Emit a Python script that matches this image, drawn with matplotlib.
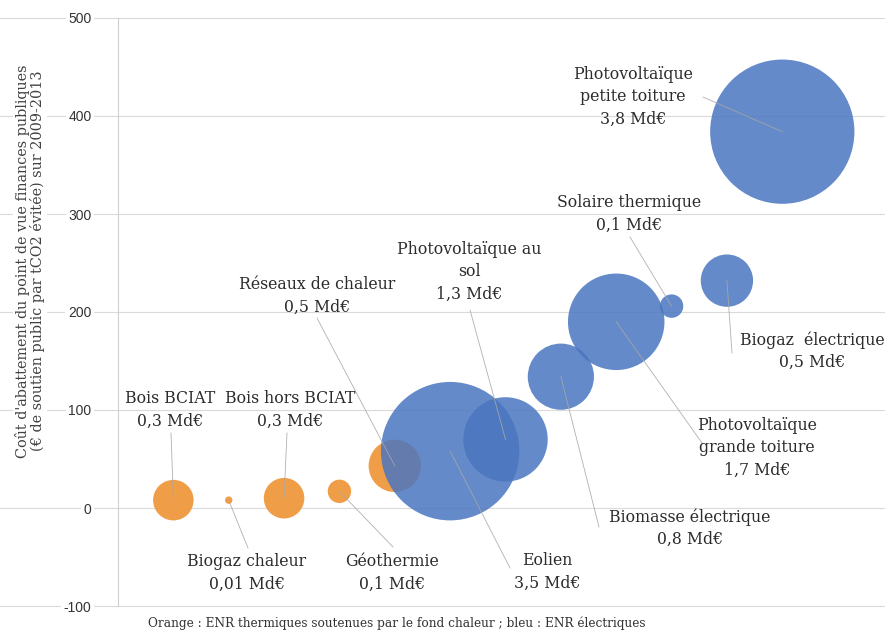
import matplotlib
matplotlib.use("Agg")
import matplotlib.pyplot as plt

# ---------------- data ----------------
names = ["Bois BCIAT", "Biogaz chaleur", "Bois hors BCIAT", "Géothermie",
         "Réseaux de chaleur", "Eolien", "Photovoltaïque au sol",
         "Biomasse électrique", "Photovoltaïque grande toiture",
         "Solaire thermique", "Biogaz électrique", "Photovoltaïque petite toiture"]
x_rank = [1, 2, 3, 4, 5, 6, 7, 8, 9, 10, 11, 12]
cost = [8, 8, 10, 17, 43, 58, 70, 134, 190, 206, 232, 384]          # €/tCO2
amount = [0.3, 0.01, 0.3, 0.1, 0.5, 3.5, 1.3, 0.8, 1.7, 0.1, 0.5, 3.8]  # Md€
group = ["thermique"] * 5 + ["électrique"] * 7
label_texts = ["Bois BCIAT\n0,3 Md€", "Biogaz chaleur\n0,01 Md€",
               "Bois hors BCIAT\n0,3 Md€", "Géothermie\n0,1 Md€",
               "Réseaux de chaleur\n0,5 Md€", "Eolien\n3,5 Md€",
               "Photovoltaïque au\nsol\n1,3 Md€", "Biomasse électrique\n0,8 Md€",
               "Photovoltaïque\ngrande toiture\n1,7 Md€", "Solaire thermique\n0,1 Md€",
               "Biogaz  électrique\n0,5 Md€", "Photovoltaïque\npetite toiture\n3,8 Md€"]
yticks = [-100, 0, 100, 200, 300, 400, 500]

# ---------------- layout ----------------
W, H = 885, 636
AX_L, AX_R = 118, 893          # pixel x of x=0 and x=14
AX_T, AX_B = 18, 606           # pixel y of y=500 and y=-100
XMIN, XMAX, YMIN, YMAX = 0, 14, -100, 500

def px2x(px):
    return XMIN + (px - AX_L) / (AX_R - AX_L) * (XMAX - XMIN)

def py2y(py):
    return YMIN + (AX_B - py) / (AX_B - AX_T) * (YMAX - YMIN)

# label centres and leader end points (pixels)
label_pos = [(170, 410), (247, 573), (290, 410), (392, 573), (317, 296),
             (547, 572), (469, 272), (690, 528), (757, 448), (629, 214),
             (812, 351), (633, 97)]
leader_end = [(171, 433), (248, 548), (287, 433), (393, 547), (317, 318),
              (510, 568), (470, 310), (599, 527), (702, 443), (630, 237),
              (732, 353), (703, 97)]

colors = {"thermique": "#F0983E", "électrique": "#4A76C0"}
alphas = {"thermique": 0.95, "électrique": 0.85}
size_k = 2840  # marker area (pt^2) per Md€

fig = plt.figure(figsize=(W / 100, H / 100), dpi=100)
ax = fig.add_axes([AX_L / W, (H - AX_B) / H, (AX_R - AX_L) / W, (AX_B - AX_T) / H])
ax.set_xlim(XMIN, XMAX)
ax.set_ylim(YMIN, YMAX)

for s in ["top", "right", "bottom"]:
    ax.spines[s].set_visible(False)
ax.spines["left"].set_color("#D0D0D0")
ax.spines["left"].set_linewidth(0.8)
ax.set_xticks([])
ax.set_yticks(yticks)
ax.set_yticklabels([str(v) for v in yticks], fontfamily="Liberation Sans",
                   fontsize=10, color="#333333")
ax.tick_params(axis="y", length=0, pad=19)
for lbl in ax.get_yticklabels():
    lbl.set_bbox(dict(facecolor="white", edgecolor="none", pad=2))

# gridlines spanning the full figure width
for v in yticks:
    ax.axhline(v, xmin=-AX_L / (AX_R - AX_L), xmax=1, color="#DADADA",
               lw=0.8, zorder=0, clip_on=False)

# bubbles: orange first, then blue
for g in ["thermique", "électrique"]:
    idx = [i for i in range(len(names)) if group[i] == g]
    ax.scatter([x_rank[i] for i in idx], [cost[i] for i in idx],
               s=[amount[i] * size_k for i in idx], color=colors[g],
               alpha=alphas[g], edgecolors="none", zorder=3)

# leaders and labels
for i in range(len(names)):
    ex, ey = leader_end[i]
    ax.plot([x_rank[i], px2x(ex)], [cost[i], py2y(ey)], color="#A8A8A8",
            lw=0.6, zorder=4, alpha=0.9)
    lx, ly = label_pos[i]
    ax.text(px2x(lx), py2y(ly), label_texts[i], ha="center", va="center",
            fontfamily="DejaVu Serif", fontsize=11.3, color="#2B2B2B",
            linespacing=1.4, zorder=5)

fig.text(30 / W, 1 - 261 / H,
         "Coût d'abattement du point de vue finances publiques\n"
         "(€ de soutien public par tCO2 évitée) sur 2009-2013",
         rotation=90, ha="center", va="center", fontfamily="DejaVu Serif",
         fontsize=10.4, color="#404040", linespacing=1.05,
         bbox=dict(facecolor="white", edgecolor="none", pad=1))

fig.text(397 / W, 1 - 623 / H,
         "Orange : ENR thermiques soutenues par le fond chaleur ; bleu : ENR électriques",
         ha="center", va="center", fontfamily="DejaVu Serif", fontsize=8.7,
         color="#333333")

fig.savefig("out.png", dpi=100)
